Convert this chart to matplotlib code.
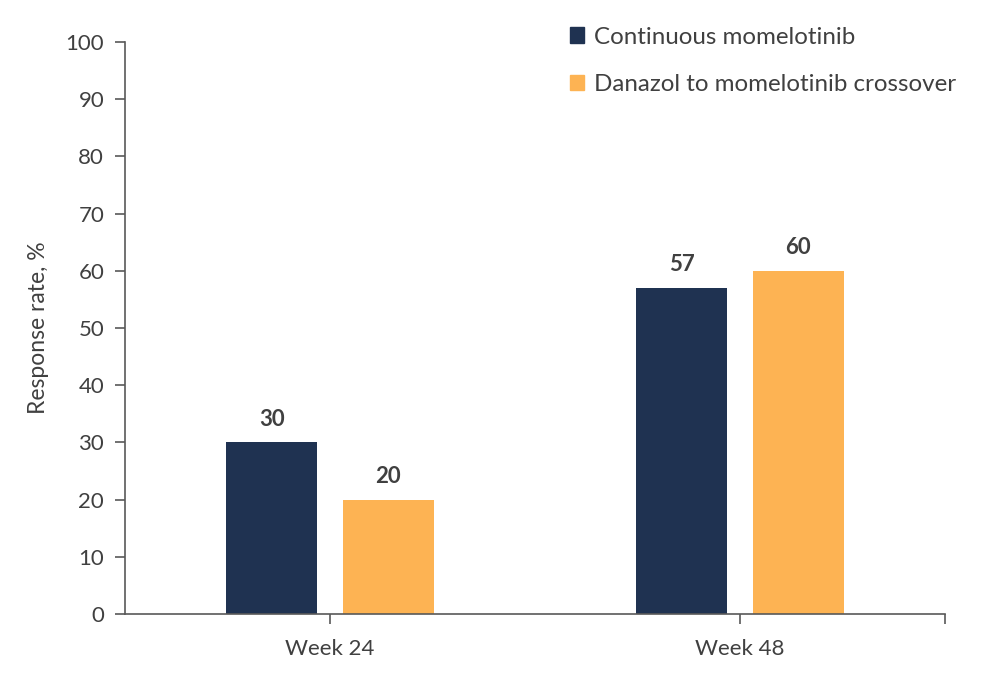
import matplotlib
matplotlib.use("Agg")
import matplotlib.pyplot as plt
from matplotlib.patches import Patch
import numpy as np

plt.rcParams['font.family'] = ['Lato', 'DejaVu Sans']

# data
weeks = ["Week 24", "Week 48"]
continuous = [30, 57]
crossover = [20, 60]
series_names = ["Continuous momelotinib", "Danazol to momelotinib crossover"]

navy = "#1f3251"
orange = "#fdb353"
txt = "#404040"

fig = plt.figure(figsize=(10, 6.9), dpi=100)
ax = fig.add_axes([0.125, 0.110, 0.82, 0.829])

x = np.arange(len(weeks))
w = 0.222
off = 0.142
b1 = ax.bar(x - off, continuous, w, color=navy)
b2 = ax.bar(x + off, crossover, w, color=orange)

for bars, vals in [(b1, continuous), (b2, crossover)]:
    for b, v in zip(bars, vals):
        ax.text(b.get_x() + b.get_width() / 2, v + 2.2, str(v), ha="center", va="bottom",
                fontsize=16, fontweight="bold", color=txt)

ax.set_xlim(-0.5, 1.5)
ax.set_ylim(0, 100)
ax.set_yticks(range(0, 101, 10))
ax.set_xticks([0, 1, 1.5])
ax.set_xticklabels(weeks + [""])
ax.set_ylabel("Response rate, %", fontsize=16.5, color=txt, labelpad=12)

for s in ["top", "right"]:
    ax.spines[s].set_visible(False)
for s in ["left", "bottom"]:
    ax.spines[s].set_color("#595959")
    ax.spines[s].set_linewidth(1.2)
ax.tick_params(axis="y", length=7, width=1.2, color="#595959", labelsize=16, labelcolor=txt, pad=8)
ax.tick_params(axis="x", length=7, width=1.2, color="#595959", labelsize=16, labelcolor=txt, pad=11)

handles = [Patch(color=navy), Patch(color=orange)]
fig.legend(handles, series_names, loc="upper left", bbox_to_anchor=(0.548, 0.993),
           frameon=False, fontsize=17.4, handlelength=0.6, handleheight=0.6,
           handletextpad=0.4, labelspacing=1.1, labelcolor=txt)

fig.savefig("out.png", dpi=100)
